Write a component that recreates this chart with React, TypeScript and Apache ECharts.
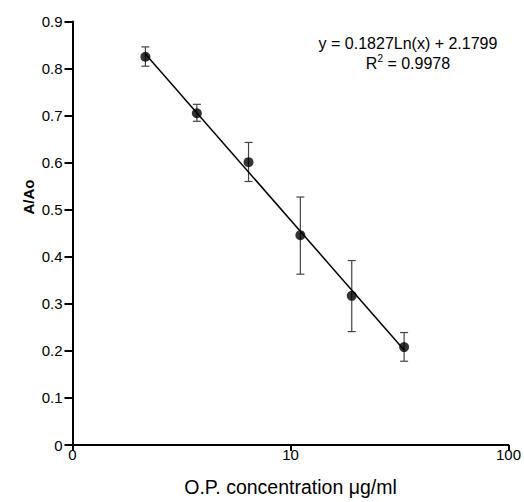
import React, { useEffect, useRef } from "react";
import * as echarts from "echarts";

const concentrations = [2.16, 3.72, 6.42, 11.1, 19.1, 33.2];
const meanValues = [0.825, 0.705, 0.601, 0.446, 0.317, 0.208];
const errLow = [0.805, 0.688, 0.56, 0.363, 0.241, 0.178];
const errHigh = [0.846, 0.724, 0.643, 0.527, 0.392, 0.239];
const yTicks = [0, 0.1, 0.2, 0.3, 0.4, 0.5, 0.6, 0.7, 0.8, 0.9];
const equationLine = "y = 0.1827Ln(x) + 2.1799";
const rSquared = "0.9978";

function fitLog(xs: number[], ys: number[]) {
  const lx = xs.map((v) => Math.log10(v));
  const n = lx.length;
  const mx = lx.reduce((a, b) => a + b, 0) / n;
  const my = ys.reduce((a, b) => a + b, 0) / n;
  let sxy = 0;
  let sxx = 0;
  for (let i = 0; i < n; i++) {
    sxy += (lx[i] - mx) * (ys[i] - my);
    sxx += (lx[i] - mx) * (lx[i] - mx);
  }
  const slope = sxy / sxx;
  const intercept = my - slope * mx;
  return (x: number) => intercept + slope * Math.log10(x);
}

export default function App() {
  const ref = useRef<HTMLDivElement>(null);
  useEffect(() => {
    if (!ref.current) return;
    const chart = echarts.init(ref.current, undefined, { renderer: "svg" });
    const f = fitLog(concentrations, meanValues);
    const x0 = concentrations[0];
    const x1 = concentrations[concentrations.length - 1];
    const font = "Liberation Sans, Arial, sans-serif";
    chart.setOption({
      animation: false,
      backgroundColor: "#ffffff",
      grid: { left: 72.5, right: 12.5, top: 21.5, bottom: 49.5, containLabel: false },
      xAxis: {
        type: "log",
        logBase: 10,
        min: 1,
        max: 100,
        name: "O.P. concentration \u03bcg/ml",
        nameLocation: "middle",
        nameGap: 32,
        nameTextStyle: { color: "#000", fontSize: 19.5, fontFamily: font },
        axisLine: { lineStyle: { color: "#000", width: 2 } },
        axisTick: { show: true, length: 6, inside: false, lineStyle: { color: "#000", width: 2 } },
        minorTick: { show: false },
        splitLine: { show: false },
        axisLabel: {
          color: "#000",
          fontSize: 15,
          fontFamily: font,
          margin: 2,
          formatter: (v: number) => (Math.abs(v - 1) < 1e-9 ? "0" : String(Math.round(v))),
        },
      },
      yAxis: {
        type: "value",
        min: 0,
        max: 0.9,
        interval: 0.1,
        axisLine: { show: true, lineStyle: { color: "#000", width: 2 } },
        axisTick: { show: true, length: 8, lineStyle: { color: "#000", width: 2 } },
        splitLine: { show: false },
        axisLabel: {
          color: "#000",
          fontSize: 15,
          fontFamily: font,
          margin: 10,
          formatter: (v: number) => {
            const t = yTicks.find((k) => Math.abs(k - v) < 1e-6);
            const val = t === undefined ? v : t;
            return val === 0 ? "0" : val.toFixed(1);
          },
        },
      },
      graphic: [
        {
          type: "text",
          x: 28,
          y: 197,
          rotation: Math.PI / 2,
          style: {
            text: "A/Ao",
            fill: "#000",
            font: `bold 15px ${font}`,
            textAlign: "center",
            textVerticalAlign: "middle",
          },
        },
        {
          type: "text",
          x: 408,
          y: 43,
          style: {
            text: equationLine,
            fill: "#000",
            font: `16px ${font}`,
            textAlign: "center",
            textVerticalAlign: "middle",
          },
        },
        {
          type: "text",
          x: 408,
          y: 62,
          style: {
            text: "{a|R}{s|2}{a| = " + rSquared + "}",
            textAlign: "center",
            textVerticalAlign: "middle",
            rich: {
              a: { fontSize: 16, fontFamily: font, fill: "#000", color: "#000", verticalAlign: "bottom", lineHeight: 18 },
              s: { fontSize: 10, fontFamily: font, fill: "#000", color: "#000", verticalAlign: "top", lineHeight: 18 },
            },
          },
        },
      ],
      series: [
        {
          type: "line",
          data: [
            [x0, f(x0)],
            [x1, f(x1)],
          ],
          showSymbol: false,
          lineStyle: { color: "#000", width: 1.5 },
          z: 3,
          silent: true,
        },
        {
          type: "custom",
          data: concentrations.map((x, i) => [x, errLow[i], errHigh[i]]),
          renderItem: (params: any, api: any) => {
            const top = api.coord([api.value(0), api.value(2)]);
            const bot = api.coord([api.value(0), api.value(1)]);
            const w = 4;
            const style = { stroke: "#444", lineWidth: 1.2 };
            return {
              type: "group",
              children: [
                { type: "line", shape: { x1: top[0], y1: top[1], x2: bot[0], y2: bot[1] }, style },
                { type: "line", shape: { x1: top[0] - w, y1: top[1], x2: top[0] + w, y2: top[1] }, style },
                { type: "line", shape: { x1: bot[0] - w, y1: bot[1], x2: bot[0] + w, y2: bot[1] }, style },
              ],
            };
          },
          z: 2,
          silent: true,
        },
        {
          type: "scatter",
          data: concentrations.map((x, i) => [x, meanValues[i]]),
          symbol: "circle",
          symbolSize: 10,
          itemStyle: { color: "#000" },
          z: 4,
          silent: true,
        },
      ],
    });
    return () => chart.dispose();
  }, []);
  return (
    <div
      ref={ref}
      style={{ position: "absolute", left: 0, top: 0, width: 524, height: 502 }}
    />
  );
}
